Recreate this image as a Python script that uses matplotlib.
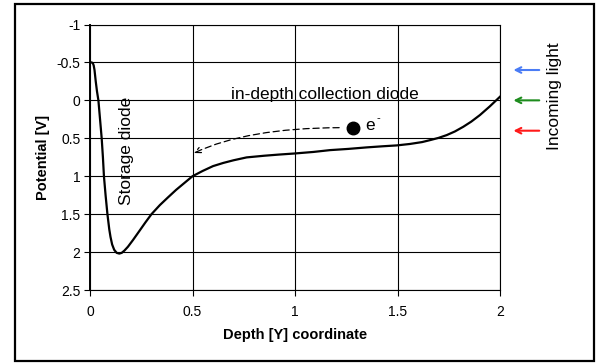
import matplotlib.pyplot as plt
from matplotlib.patches import Rectangle

plt.rcParams['font.family'] = ['Liberation Sans', 'DejaVu Sans']

# Potential profile along the depth coordinate
depth = [0.0, 0.008, 0.014, 0.018, 0.022, 0.028, 0.034, 0.041, 0.049, 0.057,
         0.063, 0.068, 0.076, 0.085, 0.094, 0.1, 0.108, 0.118, 0.13, 0.143,
         0.155, 0.168, 0.185, 0.21, 0.244, 0.27, 0.3, 0.341, 0.38, 0.42, 0.46,
         0.5, 0.55, 0.6, 0.65, 0.7, 0.764, 0.85, 0.92, 1.0, 1.09, 1.171, 1.26,
         1.35, 1.43, 1.496, 1.56, 1.62, 1.659, 1.7, 1.74, 1.78, 1.821, 1.86,
         1.902, 1.95, 2.0]
potential = [-0.5, -0.5, -0.49, -0.46, -0.4, -0.25, -0.12, 0.0, 0.25, 0.5,
             0.75, 1.0, 1.25, 1.5, 1.7, 1.8, 1.9, 1.97, 2.01, 2.02,
             2.01, 1.98, 1.93, 1.84, 1.71, 1.61, 1.5, 1.38, 1.28, 1.18, 1.09,
             1.0, 0.93, 0.867, 0.825, 0.79, 0.752, 0.73, 0.715, 0.70, 0.68, 0.656, 0.64,
             0.62, 0.605, 0.594, 0.575, 0.55, 0.524, 0.495, 0.458, 0.41, 0.348, 0.28,
             0.194, 0.08, -0.048]

xticks = [0, 0.5, 1, 1.5, 2]
yticks = [-1, -0.5, 0, 0.5, 1, 1.5, 2, 2.5]

# incoming light arrows (wavelength colours) and their heights
light_y = [-0.4, 0.0, 0.4]
light_colors = ['#4a7cf5', '#1e8c1e', '#ff1a1a']

electron = (1.281, 0.36)
drift_start = (1.229, 0.36)
drift_end = (0.495, 0.71)

fig = plt.figure(figsize=(5.97, 3.64), dpi=100)
ax = fig.add_axes([90/597, 1 - 290/364, 410/597, 265.5/364])

ax.plot(depth, potential, color='black', lw=1.6, zorder=3)

ax.set_xlim(0, 2)
ax.set_ylim(2.5, -1)
ax.set_xticks(xticks)
ax.set_yticks(yticks)
ax.set_xticklabels(['0', '0.5', '1', '1.5', '2'])
ax.set_yticklabels(['-1', '-0.5', '0', '0.5', '1', '1.5', '2', '2.5'])
ax.grid(True, color='black', lw=0.8)
ax.set_axisbelow(True)
ax.tick_params(direction='out', length=4, width=0.8, labelsize=10, pad=3)
ax.tick_params(axis='x', pad=7)
for s in ax.spines.values():
    s.set_linewidth(0.8)
ax.spines['left'].set_linewidth(1.4)

ax.set_xlabel('Depth [Y] coordinate', fontsize=10.5, fontweight='bold')
ax.set_ylabel('Potential [V]', fontsize=10.5, fontweight='bold')
ax.xaxis.set_label_coords(0.5, -45/265.5)
ax.xaxis.label.set_va('center')
ax.yaxis.set_label_coords(-47/410, 0.5)
ax.yaxis.label.set_va('center')

ax.text(1.146, -0.012, 'in-depth collection diode', fontsize=12.5,
        ha='center', va='baseline')
ax.text(0.179, 0.669, 'Storage diode', fontsize=12.5, rotation=90,
        ha='center', va='center')
ax.text(2.268, -0.057, 'Incoming light', fontsize=12.5, rotation=90,
        ha='center', va='center', clip_on=False)

# electron and its drift path towards the storage diode
ax.plot(*electron, 'o', color='black', ms=9, zorder=4)
ax.text(1.345, 0.392, 'e', fontsize=12.5, ha='left', va='baseline')
ax.text(1.398, 0.277, '-', fontsize=8, ha='left', va='baseline')
ax.annotate('', xy=drift_end, xytext=drift_start,
            arrowprops=dict(arrowstyle='->', lw=0.9, ls=(0, (5, 3)),
                            connectionstyle='angle3,angleA=0,angleB=26',
                            color='black'))

for y, c in zip(light_y, light_colors):
    ax.annotate('', xy=(2.052, y), xytext=(2.205, y), annotation_clip=False,
                arrowprops=dict(arrowstyle='->', lw=1.5, color=c))

fig.patches.append(Rectangle((15/597, 3/364), 579/597, 357/364, fill=False,
                             lw=1.6, edgecolor='black', transform=fig.transFigure))

fig.savefig('out.png', dpi=100)
